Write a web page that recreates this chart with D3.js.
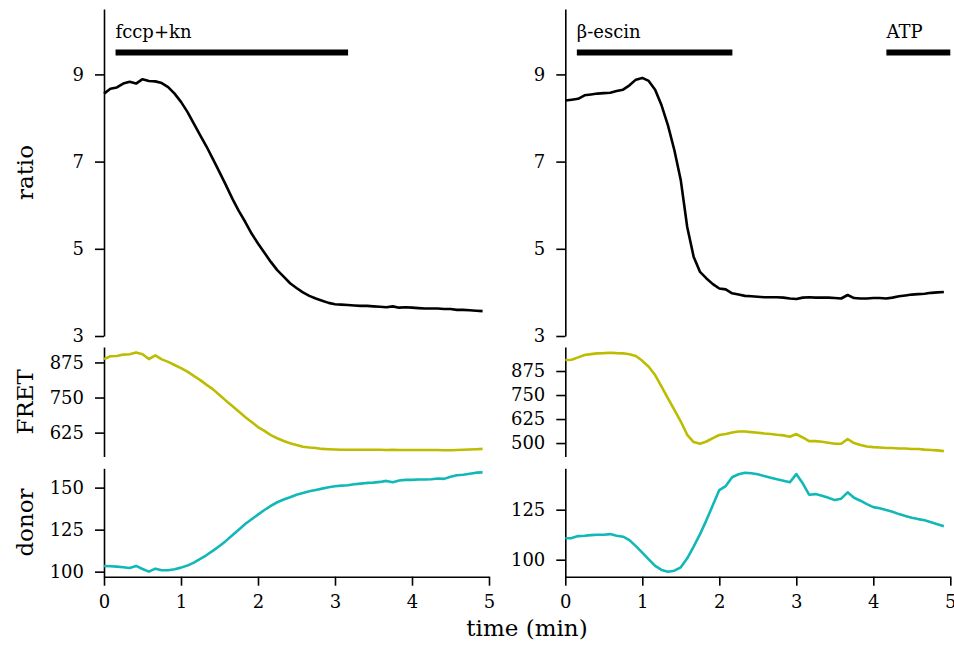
<!DOCTYPE html>
<html>
<head>
<meta charset="utf-8">
<script src="https://cdn.jsdelivr.net/npm/d3@7"></script>
<style>
  body { margin: 0; background: #fff; }
  svg { display: block; }
</style>
</head>
<body>
<div id="chart"></div>
<script>
// sample times in seconds (same for both recordings)
var timeSec = [0, 5, 10, 15, 20, 25, 30, 35, 40, 45, 50, 55, 60, 65, 70, 75, 80, 85, 90, 95,
    100, 105, 110, 115, 120, 125, 130, 135, 140, 145, 150, 155, 160, 165, 170, 175, 180, 185, 190, 195,
    200, 205, 210, 215, 220, 225, 230, 235, 240, 245, 250, 255, 260, 265, 270, 275, 280, 285, 290, 295];

// left column: fccp+kn
var ratioLeft = [8.56, 8.67, 8.70, 8.79, 8.83, 8.79, 8.89, 8.85, 8.84, 8.80, 8.71, 8.56, 8.37, 8.14, 7.87, 7.60, 7.34, 7.05, 6.76, 6.46,
    6.15, 5.87, 5.62, 5.35, 5.12, 4.91, 4.70, 4.51, 4.36, 4.21, 4.10, 4.00, 3.92, 3.86, 3.81, 3.76, 3.73, 3.72, 3.71, 3.70,
    3.69, 3.69, 3.68, 3.67, 3.66, 3.68, 3.65, 3.66, 3.65, 3.64, 3.63, 3.63, 3.63, 3.62, 3.62, 3.60, 3.60, 3.59, 3.58, 3.57];
var fretLeft = [887, 897, 898, 903, 904, 910, 904, 887, 900, 886, 877, 866, 855, 842, 827, 812, 795, 779, 759, 739,
    720, 700, 681, 663, 645, 631, 616, 605, 595, 587, 581, 575, 572, 570, 567, 566, 565, 564, 564, 564,
    564, 564, 564, 564, 563, 564, 563, 563, 563, 563, 563, 563, 563, 562, 562, 563, 564, 565, 566, 567];
var donorLeft = [103.4, 103.2, 103.0, 102.6, 102.2, 103.4, 101.6, 100.0, 101.8, 100.8, 100.8, 101.4, 102.4, 103.6, 105.4, 107.6, 109.9, 112.5, 115.3, 118.3,
    121.7, 125.0, 128.4, 131.2, 133.9, 136.7, 139.1, 141.3, 142.9, 144.3, 145.8, 146.8, 147.8, 148.6, 149.4, 150.2, 150.8, 151.2, 151.4, 152.0,
    152.4, 152.8, 153.0, 153.4, 154.0, 153.2, 154.2, 154.6, 154.6, 154.8, 154.8, 155.0, 155.4, 155.2, 156.5, 157.4, 157.7, 158.3, 158.9, 159.1];

// right column: beta-escin then ATP
var ratioRight = [8.40, 8.42, 8.44, 8.52, 8.54, 8.56, 8.57, 8.58, 8.62, 8.65, 8.75, 8.88, 8.92, 8.85, 8.65, 8.29, 7.83, 7.26, 6.57, 5.50,
    4.82, 4.47, 4.32, 4.19, 4.09, 4.07, 3.98, 3.95, 3.92, 3.91, 3.90, 3.89, 3.89, 3.89, 3.88, 3.86, 3.85, 3.88, 3.89, 3.88,
    3.88, 3.88, 3.87, 3.86, 3.94, 3.87, 3.86, 3.86, 3.87, 3.87, 3.86, 3.88, 3.91, 3.93, 3.95, 3.96, 3.97, 3.99, 4.00, 4.01];
var fretRight = [932, 934, 946, 958, 963, 967, 968, 970, 968, 967, 962, 953, 928, 897, 854, 794, 733, 673, 612, 543,
    505, 496, 508, 526, 542, 547, 555, 560, 560, 557, 554, 550, 547, 543, 540, 533, 547, 529, 510, 510,
    507, 502, 496, 496, 521, 500, 490, 482, 479, 477, 474, 474, 472, 472, 469, 469, 466, 464, 462, 458];
var donorRight = [110.7, 110.8, 111.8, 112.0, 112.3, 112.5, 112.5, 112.8, 112.0, 111.5, 109.8, 106.8, 103.5, 100.2, 96.9, 94.9, 94.0, 94.5, 96.2, 100.7,
    106.5, 112.8, 119.8, 127.3, 134.8, 136.8, 141.2, 142.7, 143.5, 143.2, 142.7, 141.8, 141.0, 140.2, 139.5, 138.7, 142.8, 138.2, 132.5, 132.8,
    132.0, 131.0, 129.8, 130.5, 133.7, 131.0, 129.5, 127.8, 126.3, 125.7, 124.8, 124.0, 122.8, 121.8, 121.0, 120.3, 119.7, 118.7, 117.7, 116.7];

// tick labels
var timeTicks = [0, 1, 2, 3, 4, 5];
var ratioTicks = [3, 5, 7, 9];
var fretTicksLeft = [625, 750, 875];
var fretTicksRight = [500, 625, 750, 875];
var donorTicksLeft = [100, 125, 150];
var donorTicksRight = [100, 125];

// treatments (minutes)
var treatLabelsLeft = ["fccp+kn"];
var treatStartLeft = [0.15];
var treatEndLeft = [3.17];
var treatLabelsRight = ["β-escin", "ATP"];
var treatStartRight = [0.15, 4.17];
var treatEndRight = [2.17, 5.0];

var width = 954, height = 648;
var serif = "'DejaVu Serif', serif";

var svg = d3.select("#chart")
    .append("svg")
    .attr("width", width)
    .attr("height", height);

var columns = [
    { range: [104, 489], ratio: ratioLeft, fret: fretLeft, donor: donorLeft,
      fretDomain: [540, 930], fretTicks: fretTicksLeft,
      donorDomain: [97, 161.5], donorTicks: donorTicksLeft,
      labels: treatLabelsLeft, starts: treatStartLeft, ends: treatEndLeft, title: true },
    { range: [565.3, 950.3], ratio: ratioRight, fret: fretRight, donor: donorRight,
      fretDomain: [430, 1000], fretTicks: fretTicksRight,
      donorDomain: [91.5, 145.7], donorTicks: donorTicksRight,
      labels: treatLabelsRight, starts: treatStartRight, ends: treatEndRight, title: false }
];

function styleAxis(g) {
    g.attr("font-family", serif).attr("font-size", 18);
    g.selectAll("path, line").attr("stroke", "#000").attr("stroke-width", 1.6);
    g.selectAll("text").attr("fill", "#000");
}

columns.forEach(function (col) {
    var x = d3.scaleLinear().domain([0, 5]).range(col.range);

    var rows = [
        { name: "ratio", values: col.ratio, domain: [3, 10.5], range: [336, 9], ticks: ratioTicks, color: "#000" },
        { name: "FRET", values: col.fret, domain: col.fretDomain, range: [456.5, 347], ticks: col.fretTicks, color: "#bcbc00" },
        { name: "donor", values: col.donor, domain: col.donorDomain, range: [576.7, 468.3], ticks: col.donorTicks, color: "#12b8b8" }
    ];

    rows.forEach(function (row, ri) {
        var y = d3.scaleLinear().domain(row.domain).range(row.range);

        svg.append("g")
            .attr("transform", "translate(" + col.range[0] + ",0)")
            .call(d3.axisLeft(y).tickValues(row.ticks).tickSize(9).tickSizeOuter(0).tickPadding(11))
            .call(styleAxis);

        var line = d3.line()
            .x(function (d, i) { return x(timeSec[i] / 60); })
            .y(function (d) { return y(d); });

        svg.append("path")
            .datum(row.values)
            .attr("d", line)
            .attr("fill", "none")
            .attr("stroke", row.color)
            .attr("stroke-width", 2.6)
            .attr("stroke-linejoin", "round");

        if (col.title) {
            var cy = (row.range[0] + row.range[1]) / 2;
            svg.append("text")
                .attr("transform", "translate(33," + cy + ") rotate(-90)")
                .attr("text-anchor", "middle")
                .attr("font-family", serif)
                .attr("font-size", 23)
                .text(row.name);
        }

        // treatment bars on top of the ratio panel
        if (ri == 0) {
            col.labels.forEach(function (lab, k) {
                svg.append("line")
                    .attr("x1", x(col.starts[k]))
                    .attr("x2", x(col.ends[k]))
                    .attr("y1", y(9.5))
                    .attr("y2", y(9.5))
                    .attr("stroke", "#000")
                    .attr("stroke-width", 6);
                svg.append("text")
                    .attr("x", x(col.starts[k]))
                    .attr("y", y(9.84))
                    .attr("font-family", serif)
                    .attr("font-size", 18)
                    .text(lab);
            });
        }
    });

    svg.append("g")
        .attr("transform", "translate(0,576.7)")
        .call(d3.axisBottom(x).tickValues(timeTicks).tickFormat(d3.format("d")).tickSize(9).tickSizeOuter(0).tickPadding(10))
        .call(styleAxis);
});

svg.append("text")
    .attr("x", 527)
    .attr("y", 636)
    .attr("text-anchor", "middle")
    .attr("font-family", serif)
    .attr("font-size", 23)
    .text("time (min)");
</script>
</body>
</html>
